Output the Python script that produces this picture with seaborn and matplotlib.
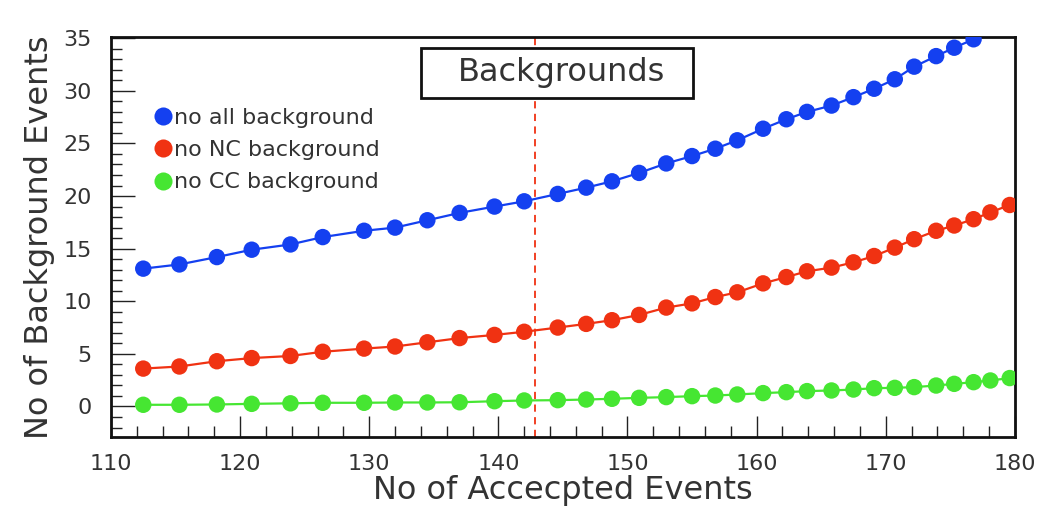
import numpy as np
import pandas as pd
import matplotlib
matplotlib.use("Agg")
import matplotlib.pyplot as plt
from matplotlib.patches import Rectangle
from matplotlib.ticker import MultipleLocator
import seaborn as sns

# -----------------------------
# Data
# -----------------------------
accepted = [112.5, 115.3, 118.2, 120.9, 123.9, 126.4, 129.6, 132.0, 134.5, 137.0,
            139.7, 142.0, 144.6, 146.8, 148.8, 150.9, 153.0, 155.0, 156.8, 158.5,
            160.5, 162.3, 163.9, 165.8, 167.5, 169.1, 170.7, 172.2, 173.9, 175.3,
            176.8, 178.1, 179.6]

no_all_bkg = [13.1, 13.5, 14.2, 14.9, 15.4, 16.1, 16.7, 17.0, 17.7, 18.4,
              19.0, 19.5, 20.2, 20.8, 21.4, 22.2, 23.1, 23.8, 24.5, 25.3,
              26.4, 27.3, 28.0, 28.6, 29.4, 30.2, 31.1, 32.3, 33.3, 34.1,
              34.9]

no_nc_bkg = [3.6, 3.8, 4.3, 4.6, 4.8, 5.2, 5.5, 5.7, 6.1, 6.5,
             6.8, 7.1, 7.5, 7.85, 8.2, 8.7, 9.4, 9.8, 10.4, 10.85,
             11.7, 12.3, 12.85, 13.2, 13.7, 14.3, 15.1, 15.9, 16.7, 17.2,
             17.8, 18.45, 19.15]

no_cc_bkg = [0.16, 0.16, 0.19, 0.25, 0.3, 0.35, 0.35, 0.38, 0.38, 0.4,
             0.5, 0.57, 0.6, 0.66, 0.73, 0.82, 0.89, 0.98, 1.04, 1.14,
             1.27, 1.36, 1.46, 1.52, 1.61, 1.74, 1.77, 1.84, 1.99, 2.15,
             2.31, 2.47, 2.7]

series_names = ["no all background", "no NC background", "no CC background"]
series_colors = ["#1440f0", "#f03212", "#46e632"]
cut_position = 142.8

# long table for seaborn
frames = []
for name, vals in zip(series_names, [no_all_bkg, no_nc_bkg, no_cc_bkg]):
    frames.append(pd.DataFrame({"accepted": accepted[:len(vals)],
                                "background": vals,
                                "series": name}))
df = pd.concat(frames, ignore_index=True)
palette = dict(zip(series_names, series_colors))

# -----------------------------
# Plot
# -----------------------------
sns.set_style("white")
plt.rcParams["font.family"] = ["DejaVu Sans"]
text_col = "#333333"

fig = plt.figure(figsize=(10.39, 5.08), dpi=100)
ax = fig.add_axes([0.1068, 0.1398, 0.870, 0.787])

sns.lineplot(data=df, x="accepted", y="background", hue="series",
             palette=palette, linewidth=1.6, legend=False, ax=ax, zorder=2)
sns.scatterplot(data=df, x="accepted", y="background", hue="series",
                palette=palette, s=140, edgecolor="none", ax=ax, zorder=3)

ax.axvline(cut_position, color="#f03212", linestyle=(0, (4, 3)), linewidth=1.3, zorder=1)

ax.set_xlim(110, 180)
ax.set_ylim(-2.9, 35.1)
ax.xaxis.set_major_locator(MultipleLocator(10))
ax.xaxis.set_minor_locator(MultipleLocator(2))
ax.yaxis.set_major_locator(MultipleLocator(5))
ax.yaxis.set_minor_locator(MultipleLocator(1))
ax.tick_params(axis="both", which="both", direction="in", colors="#222222",
               labelcolor=text_col, labelsize=16, bottom=True, left=True,
               top=False, right=False)
ax.tick_params(axis="x", which="major", length=15, width=1.0, pad=12)
ax.tick_params(axis="x", which="minor", length=8, width=1.0)
ax.tick_params(axis="y", which="major", length=17, width=1.0, pad=14)
ax.tick_params(axis="y", which="minor", length=8, width=1.0)

for side in ax.spines.values():
    side.set_color("#111111")
    side.set_linewidth(2.0)

ax.set_xlabel("No of Accecpted Events", fontsize=23, color=text_col, labelpad=1)
ax.set_ylabel("No of Background Events", fontsize=23, color=text_col, labelpad=6)

# title box
ax.add_patch(Rectangle((0.3426, 0.8475), 0.301, 0.125, transform=ax.transAxes,
                       facecolor="white", edgecolor="#111111", linewidth=2.0, zorder=4))
ax.text(0.499, 0.912, "Backgrounds", transform=ax.transAxes, fontsize=23,
        color=text_col, ha="center", va="center", zorder=5)

leg = ax.legend(loc="upper left", bbox_to_anchor=(0.035, 0.845), frameon=False,
                fontsize=16, handletextpad=0.0, labelspacing=0.55,
                borderaxespad=0.0, handlelength=1.0, markerscale=1.1)
for t in leg.get_texts():
    t.set_color(text_col)

fig.savefig("out.png", dpi=100)
